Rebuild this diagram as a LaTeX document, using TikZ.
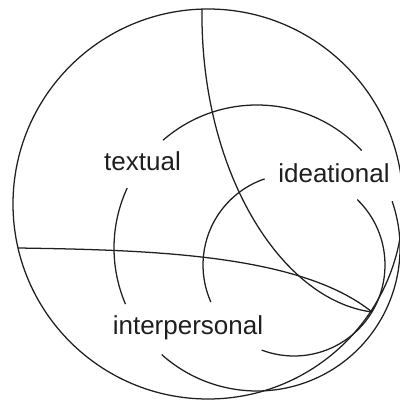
\documentclass[tikz,border=0pt]{standalone}
\usepackage{fontspec}
\setmainfont{Liberation Sans}
\begin{document}
\begin{tikzpicture}[x=0.25mm,y=-0.25mm,
  curve/.style={draw=black!88, line width=0.9pt},
  lbl/.style={font=\fontsize{18.5}{22}\selectfont, inner sep=0pt, anchor=base, text=black!88}]
\useasboundingbox (0,0) rectangle (400,400);
\clip (0,0) rectangle (400,400);
\coordinate (T) at (372,312);
\coordinate (Top) at (202,9);
\coordinate (Left) at (18,248);
\coordinate (O) at (208,204);
\coordinate (A) at (257,248);
\coordinate (B) at (294,265);
% outer circle
\draw[curve] (O) circle[radius=195];
% larger inner circle, broken by the labels
\draw[curve] (A) ++(228.9:143) arc[start angle=228.9, end angle=317, radius=143];
\draw[curve] (A) ++(-19.1:143) arc[start angle=-19.1, end angle=131.8, radius=143];
\draw[curve] (A) ++(156.9:143) arc[start angle=156.9, end angle=204.8, radius=143];
% smaller inner circle
\draw[curve] (B) ++(-45.9:91) arc[start angle=-45.9, end angle=110.8, radius=91];
\draw[curve] (B) ++(156:91) arc[start angle=156, end angle=251.2, radius=91];
% the two curves meeting at T
\draw[curve] (Top) .. controls (200,170) and (280,300) .. (T);
\draw[curve] (Left) .. controls (150,250) and (300,254) .. (T);
% labels
\node[lbl] (textual) at (142.5,170) {textual};
\node[lbl] (ideational) at (334,182) {ideational};
\node[lbl] (interpersonal) at (188,334) {interpersonal};
\end{tikzpicture}
\end{document}
